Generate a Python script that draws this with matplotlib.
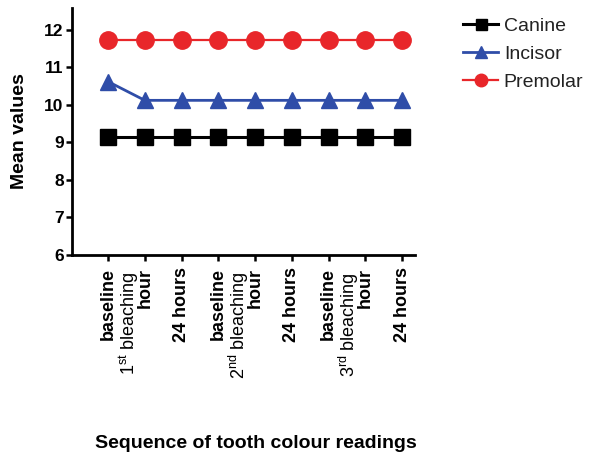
import matplotlib
matplotlib.use("Agg")
import matplotlib.pyplot as plt

plt.rcParams['font.family'] = ['Liberation Sans', 'DejaVu Sans']
plt.rcParams['mathtext.fontset'] = 'custom'
plt.rcParams['mathtext.rm'] = 'Liberation Sans'
plt.rcParams['mathtext.it'] = 'Liberation Sans'

tick_labels = [
    "baseline",
    r"$\mathregular{1^{st}\ bleaching}$" + "\nhour",
    "24 hours",
    "baseline",
    r"$\mathregular{2^{nd}\ bleaching}$" + "\nhour",
    "24 hours",
    "baseline",
    r"$\mathregular{3^{rd}\ bleaching}$" + "\nhour",
    "24 hours",
]
canine = [9.15, 9.15, 9.15, 9.15, 9.15, 9.15, 9.15, 9.15, 9.15]
incisor = [10.62, 10.12, 10.12, 10.12, 10.12, 10.12, 10.12, 10.12, 10.12]
premolar = [11.72, 11.72, 11.72, 11.72, 11.72, 11.72, 11.72, 11.72, 11.72]
yticks = [6, 7, 8, 9, 10, 11, 12]

fig = plt.figure(figsize=(5.89, 4.55), dpi=100)
ax = fig.add_axes([72/589, 1-255/455, 343/589, 247/455])

x = list(range(len(tick_labels)))
ax.plot(x, canine, color='black', lw=2.2, marker='s', ms=11, label='Canine')
ax.plot(x, incisor, color='#2F4DA8', lw=2.0, marker='^', ms=12, label='Incisor')
ax.plot(x, premolar, color='#E8262A', lw=1.6, marker='o', ms=12.5, label='Premolar')

ax.set_xlim(-0.98, 8.35)
ax.set_ylim(6, 12.58)
ax.set_yticks(yticks)
ax.set_yticklabels([str(v) for v in yticks], fontsize=12.5, fontweight='bold')
ax.set_xticks(x)
ax.set_xticklabels([''] * len(x))

# x tick labels drawn line by line so the last line sits on the tick
trans = ax.get_xaxis_transform()
line_gap = 11.5  # points between line centres
for xi, lab in zip(x, tick_labels):
    lines = lab.split("\n")
    n = len(lines)
    for k, line in enumerate(lines):
        off = -(n - 1 - k) * line_gap
        is_math = line.startswith("$")
        ax.annotate(line, xy=(xi, 0), xycoords=trans,
                    xytext=(off, -9 - (3 if is_math else 0)), textcoords='offset points',
                    rotation=90, ha='center', va='top', fontsize=13,
                    fontweight='normal' if is_math else 'bold',
                    annotation_clip=False)

for s in ['top', 'right']:
    ax.spines[s].set_visible(False)
for s in ['left', 'bottom']:
    ax.spines[s].set_linewidth(2.0)
ax.tick_params(direction='out', length=4.5, width=1.8, pad=1.5)

ax.set_ylabel('Mean values', fontsize=14, fontweight='bold')
ax.yaxis.set_label_coords(-0.128, 0.5)
ax.set_xlabel('Sequence of tooth colour readings', fontsize=14, fontweight='bold',
              va='center')
ax.xaxis.set_label_coords((256-72)/343, (255-443)/247)

leg = fig.legend(loc='upper left', bbox_to_anchor=(463/589, 1-17/455), frameon=False,
                 fontsize=14, markerscale=0.72, handlelength=1.8, handletextpad=0.3,
                 labelspacing=0.55, borderpad=0, borderaxespad=0)
for t in leg.get_texts():
    t.set_color('#222222')

fig.savefig('out.png', dpi=100)
